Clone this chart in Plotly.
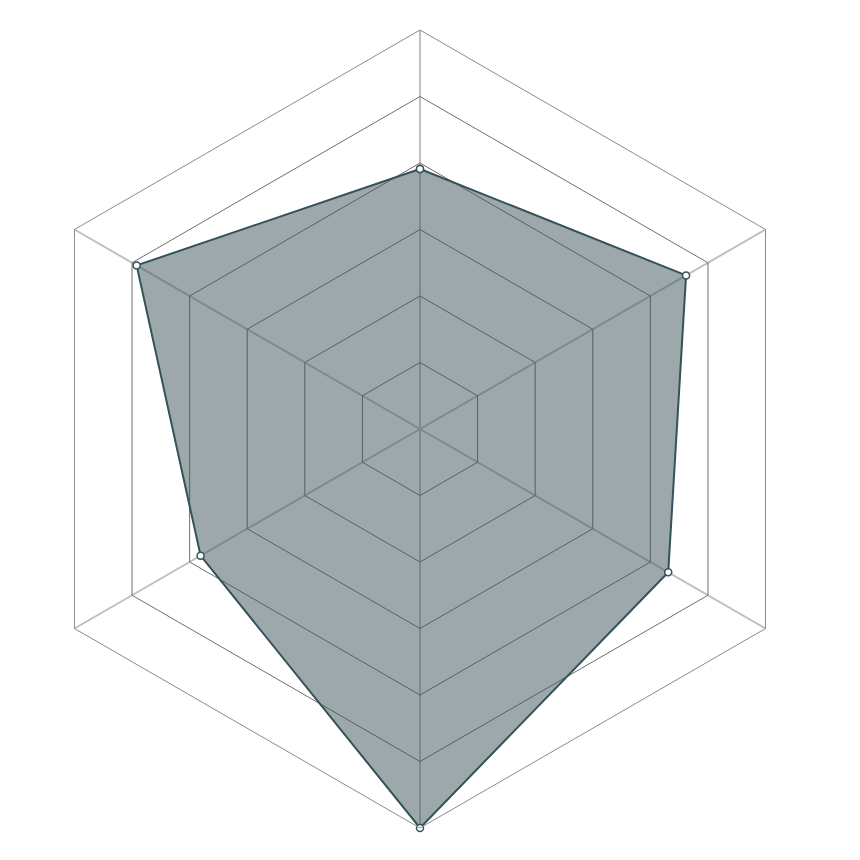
import plotly.graph_objects as go

# Radar values, clockwise from the top
CATEGORIES = ["A", "B", "C", "D", "E", "F"]
VALUES = [3.91, 4.62, 4.31, 6.0, 3.81, 4.92]
R_MAX = 6

theta = CATEGORIES + CATEGORIES[:1]
r = VALUES + VALUES[:1]

fig = go.Figure(go.Scatterpolar(
    r=r, theta=theta,
    mode="lines+markers",
    fill="toself",
    fillcolor="rgba(59,81,85,0.5)",
    line=dict(color="#33525a", width=2),
    marker=dict(size=7, color="white",
                line=dict(color="#33525a", width=1.5)),
    hoverinfo="skip",
))

fig.update_layout(
    width=860, height=860,
    margin=dict(l=12, r=48, t=22, b=40),
    paper_bgcolor="white",
    showlegend=False,
    polar=dict(
        bgcolor="white",
        gridshape="linear",
        radialaxis=dict(range=[0, R_MAX], dtick=1, showline=False,
                        showticklabels=False, ticks="",
                        gridcolor="#6e6e6e", gridwidth=1),
        angularaxis=dict(rotation=90, direction="clockwise",
                         showticklabels=False, ticks="",
                         showline=True, linecolor="#8a8a8a", linewidth=1,
                         gridcolor="#c0c0c0", gridwidth=2),
    ),
)

fig.write_html("out.html")
